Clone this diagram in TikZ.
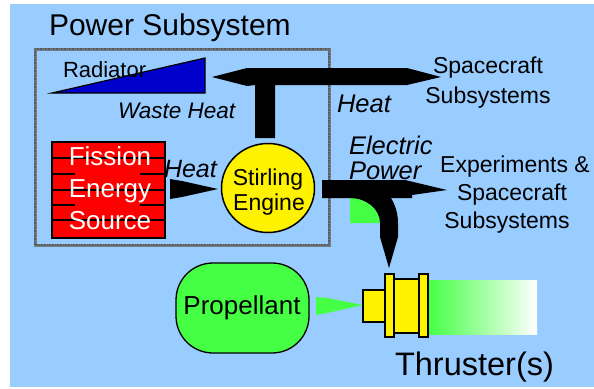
\documentclass[tikz,border=0pt]{standalone}
\usepackage{fontspec}
\setmainfont{Liberation Sans}
\usetikzlibrary{shapes.geometric}
\definecolor{bg}{HTML}{99CCFF}
\definecolor{radblue}{HTML}{0000CC}
\definecolor{pgreen}{HTML}{44FF44}
\definecolor{boxgray}{HTML}{737D88}
\begin{document}
\begin{tikzpicture}[x=1pt,y=-1pt,
  txt/.style={inner sep=0pt, outer sep=0pt, text=black},
  fs/.style={font=\fontsize{#1}{#1}\selectfont},
  fsi/.style={font=\fontsize{#1}{#1}\selectfont\itshape},
  outl/.style={draw=black, line width=1.5pt},
  boxline/.style={draw=boxgray, line width=3pt},
  boxdots/.style={draw=black!65, line width=1.4pt, dash pattern=on 0.8pt off 0.8pt}]
\useasboundingbox (0,0) rectangle (594,388);
\fill[bg] (10,4) rectangle (594,387);

% power subsystem box
\draw[boxline] (35,49) rectangle (329,245);
\draw[boxdots] (35,49) rectangle (329,245);
\node[txt, fs=30, anchor=base west] (title) at (49,35) {Power Subsystem};

% radiator
\draw[fill=radblue, line width=1.2pt, line join=miter] (52,93) -- (205,58) -- (205,93) -- cycle;
\node[txt, fs=22, anchor=base west] (radlbl) at (63,77) {Radiator};
\node[txt, fsi=22.5, anchor=base west] (waste) at (118,118) {Waste Heat};

% heat T-bar
\fill[black] (212,77) -- (247,68) -- (407,68) -- (441,77) -- (407,85) -- (275,85)
  -- (275,138) -- (255,138) -- (255,85) -- (247,86) -- cycle;
\node[txt, fsi=25.5, anchor=base west] (heatr) at (337,112) {Heat};
\node[txt, fs=23, anchor=base] (sc1) at (488,73) {Spacecraft};
\node[txt, fs=23, anchor=base] (sc2) at (488,103) {Subsystems};

% fission energy source
\node[draw=black, line width=1.8pt, fill=red, minimum width=113pt, minimum height=96pt, inner sep=0pt] (fission) at (108.5,190) {};
\begin{scope}[line width=1.2pt]
\draw (fission.west |- 0,158) -- (fission.east |- 0,158);
\draw (fission.west |- 0,190) -- (fission.east |- 0,190);
\draw (fission.west |- 0,220) -- (fission.east |- 0,220);
\draw (fission.west |- 0,174) -- (75,174);
\draw (140,174) -- (fission.east |- 0,174);
\draw (fission.west |- 0,205) -- (75,205);
\draw (140,205) -- (fission.east |- 0,205);
\end{scope}
\node[txt, fs=26, anchor=base, text=white] (f1) at (110,165) {Fission};
\node[txt, fs=26, anchor=base, text=white] (f2) at (110,197) {Energy};
\node[txt, fs=26, anchor=base, text=white] (f3) at (110,229) {Source};

% heat arrow into stirling
\fill[black] (170,179) -- (182,181) -- (218,189) -- (182,197) -- (170,199) -- cycle;
\node[txt, fsi=25, anchor=base west] (heatl) at (164,177) {Heat};

% stirling engine
\node[ellipse, outl, fill=yellow, minimum width=93pt, minimum height=89pt, inner sep=0pt] (stirling) at (268,188) {};
\node[txt, fs=23, anchor=base] (s1) at (268,185) {Stirling};
\node[txt, fs=23, anchor=base] (s2) at (269,210) {Engine};

% electric power
\node[txt, fsi=25.5, anchor=base west] (el1) at (349,154) {Electric};
\node[txt, fsi=25.5, anchor=base west] (el2) at (349,179) {Power};
\fill[pgreen] (350,223) -- (380,223) .. controls (380,209.2) and (366.6,198) .. (350,198) -- cycle;
\fill[black] (350,198) -- (391,198) .. controls (395.6,205.5) and (398,214.2) .. (398,223)
  -- (398,237) -- (389,268) -- (380,237) -- (380,223)
  .. controls (380,209.2) and (366.6,198) .. (350,198) -- cycle;
\fill[black] (322,180) -- (405,180) -- (447,190) -- (412,195) -- (412,198) -- (322,198) -- cycle;
\node[txt, fs=23, anchor=base] (ex1) at (515,172) {Experiments \&};
\node[txt, fs=23, anchor=base] (ex2) at (512,200) {Spacecraft};
\node[txt, fs=23, anchor=base] (ex3) at (507,228) {Subsystems};

% propellant
\node[outl, line width=1.3pt, fill=pgreen, rounded corners=37pt, minimum width=133pt, minimum height=90pt, inner sep=0pt] (prop) at (242.5,308) {};
\node[txt, fs=26, anchor=base] (proplbl) at (242,314) {Propellant};
\fill[pgreen] (316,297) -- (327,298) -- (363,305) -- (327,313) -- (316,315) -- cycle;

% thruster
\shade[left color=pgreen, right color=white] (428,280) rectangle (537,334);
\begin{scope}[draw=black, fill=yellow, line width=1.5pt]
\filldraw (363,290) rectangle (385,322);
\filldraw (385,274) rectangle (394,337);
\filldraw (394,279) rectangle (419,333);
\filldraw (419,274) rectangle (428,337);
\end{scope}
\node[txt, fs=32.5, anchor=base west] (thr) at (395,375) {Thruster(s)};
\end{tikzpicture}
\end{document}
